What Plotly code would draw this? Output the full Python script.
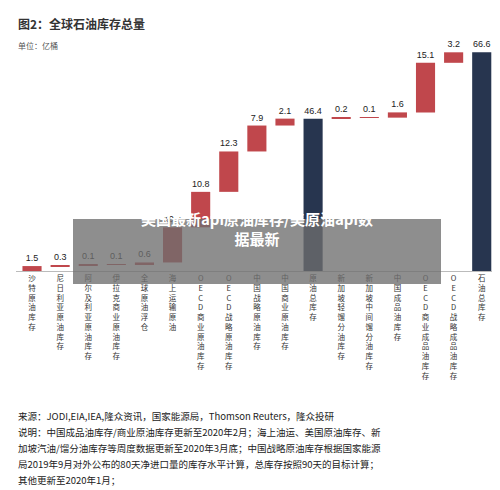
import plotly.graph_objects as go

categories = ["沙特原油库存", "尼日利亚原油库存", "阿尔及利亚原油库存", "伊拉克商业原油库存",
              "全球原油浮仓", "海上运输原油", "OECD商业原油库存", "OECD战略原油库存",
              "中国战略原油库存", "中国商业原油库存", "原油总库存", "新加坡轻馏分油库存",
              "新加坡中间馏分油库存", "中国成品油库存", "OECD商业成品油库存", "OECD战略成品油库存",
              "石油总库存"]
values = [1.5, 0.3, 0.1, 0.1, 0.6, 10.7, 10.8, 12.3, 7.9, 2.1, 46.4, 0.2, 0.1, 1.6, 15.1, 3.2, 66.6]
measures = ["relative"] * 10 + ["total"] + ["relative"] * 5 + ["total"]
source_lines = [
    "来源：JODI,EIA,IEA,隆众资讯，国家能源局，Thomson Reuters，隆众投研",
    "说明：中国成品油库存/商业原油库存更新至2020年2月；海上油运、美国原油库存、新",
    "加坡汽油/馏分油库存等周度数据更新至2020年3月底；中国战略原油库存根据国家能源",
    "局2019年9月对外公布的80天净进口量的库存水平计算，总库存按照90天的目标计算；",
    "其他更新至2020年1月；",
]

def vert(s):
    out = []
    i = 0
    while i < len(s):
        if s.startswith("OECD", i):
            out.extend(list("OECD")); i += 4
        else:
            out.append(s[i]); i += 1
    return "<br>".join(out)

FONT = "Noto Sans CJK SC"
fig = go.Figure(go.Waterfall(
    x=list(range(len(categories))), y=values, measure=measures,
    text=[f"{v:.1f}" for v in values], textposition="outside",
    textfont=dict(size=9, color="#222", family="Liberation Sans"),
    increasing=dict(marker=dict(color="#c0474c")),
    totals=dict(marker=dict(color="#27354f")),
    connector=dict(visible=False), width=0.68, cliponaxis=False,
))
fig.update_layout(
    width=500, height=490, margin=dict(l=8, r=8, t=42, b=227),
    paper_bgcolor="white", plot_bgcolor="white", showlegend=False,
    font=dict(family=FONT),
    xaxis=dict(tickmode="array", tickvals=list(range(len(categories))),
               ticktext=[vert(c) for c in categories], tickangle=0,
               tickfont=dict(size=7.5, color="#333", family=FONT),
               showline=True, linecolor="#bbb", ticks="", range=[-0.57, 16.65]),
    yaxis=dict(visible=False, range=[0, 67.3]),
)
def py(p):  # pixel y from top -> paper y
    return (263 - p) / 221
fig.add_annotation(text="<b>图2：全球石油库存总量</b>", xref="paper", yref="paper",
                   x=0.0, y=py(16), xanchor="left", yanchor="middle", showarrow=False,
                   font=dict(size=12, color="#333"))
fig.add_annotation(text="单位：亿桶", xref="paper", yref="paper",
                   x=0.0, y=py(37), xanchor="left", yanchor="middle", showarrow=False,
                   font=dict(size=8, color="#555"))
for i, line in enumerate(source_lines):
    fig.add_annotation(text=line, xref="paper", yref="paper", x=0.0, y=py(408 + 16 * i),
                       xanchor="left", yanchor="middle", align="left", showarrow=False,
                       font=dict(size=9.5, color="#222"))
fig.add_shape(type="rect", xref="paper", yref="paper", x0=(65-8)/484, x1=(433-8)/484,
              y0=py(276), y1=py(211), fillcolor="rgba(110,110,110,0.78)", line_width=0, layer="above")
fig.add_annotation(text="<b>美国最新api原油库存/美原油api数<br>据最新</b>", xref="paper", yref="paper",
                   x=(249-8)/484, y=py(243), showarrow=False, align="center",
                   font=dict(size=15, color="white"))
fig.write_html("out.html")
